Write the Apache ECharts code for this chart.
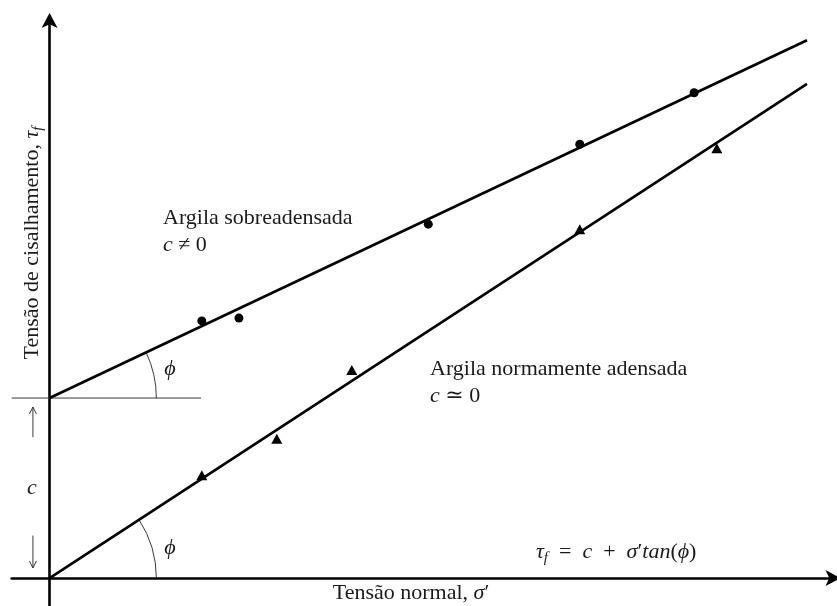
<!DOCTYPE html>
<html>
<head>
<meta charset="utf-8">
<script src="https://cdn.jsdelivr.net/npm/echarts@6/dist/echarts.min.js"></script>
<style>
  html, body { margin: 0; padding: 0; background: #fff; }
  #chart { width: 837px; height: 606px; }
</style>
</head>
<body>
<div id="chart"></div>
<script>
// Mohr–Coulomb failure envelopes for two clays (shear stress vs effective normal stress)
const cohesion = 3.22;                    // intercept c of the overconsolidated envelope
const envelopeX = [0, 10];
const overEnvelope = [cohesion, 9.62];     // Argila sobreadensada
const normalEnvelope = [0, 8.84];          // Argila normamente adensada
const overX = [2.01, 2.5, 5.0, 7.0, 8.51];
const overY = [4.60, 4.65, 6.33, 7.76, 8.68];
const normalX = [2.01, 3.0, 3.99, 7.0, 8.81];
const normalY = [1.84, 2.49, 3.72, 6.24, 7.69];
const xRange = [-0.5, 10.35];
const yRange = [-0.5, 10];
const arcRadius = 1.41;                    // angle arcs, in sigma' units
const refLineEnd = 2.0;                    // end of the horizontal guide through c
const cArrowX = -0.22;

const serif = "'Liberation Serif', 'DejaVu Serif', serif";
const ink = '#1a1a1a';
const thinInk = '#3a3a3a';

const pairs = (xs, ys) => xs.map((x, i) => [x, ys[i]]);

function renderGuides(params, api) {
  const thin = { stroke: thinInk, lineWidth: 1, fill: null };
  const origin = api.coord([0, 0]);
  const cPoint = api.coord([0, cohesion]);
  const r = api.size([arcRadius, 0])[0];
  const slopeAngle = (a, b) => {
    const p0 = api.coord(a), p1 = api.coord(b);
    return Math.atan2(p0[1] - p1[1], p1[0] - p0[0]);
  };
  const tOver = slopeAngle([envelopeX[0], overEnvelope[0]], [envelopeX[1], overEnvelope[1]]);
  const tNormal = slopeAngle([envelopeX[0], normalEnvelope[0]], [envelopeX[1], normalEnvelope[1]]);
  const h0 = api.coord([xRange[0], cohesion]);
  const h1 = api.coord([refLineEnd, cohesion]);

  // thin arrows marking the extent of c
  const arrow = (fromY, toY) => {
    const a = api.coord([cArrowX, fromY]);
    const b = api.coord([cArrowX, toY]);
    const dir = b[1] < a[1] ? 1 : -1;   // 1 = pointing up
    return [
      { type: 'line', shape: { x1: a[0], y1: a[1], x2: b[0], y2: b[1] }, style: thin },
      { type: 'polyline', shape: { points: [[b[0] - 3.5, b[1] + dir * 7], [b[0], b[1]], [b[0] + 3.5, b[1] + dir * 7]] }, style: thin }
    ];
  };

  return {
    type: 'group',
    children: [
      { type: 'line', shape: { x1: h0[0], y1: h0[1], x2: h1[0], y2: h1[1] }, style: thin },
      { type: 'arc', shape: { cx: cPoint[0], cy: cPoint[1], r: r, startAngle: -tOver, endAngle: 0, clockwise: true }, style: thin },
      { type: 'arc', shape: { cx: origin[0], cy: origin[1], r: r, startAngle: -tNormal, endAngle: 0, clockwise: true }, style: thin }
    ].concat(arrow(cohesion - 0.70, cohesion - 0.16), arrow(0.76, 0.18))
  };
}

const mathRich = {
  i: { fontFamily: serif, fontStyle: 'italic', fontSize: 22, fill: ink, lineHeight: 28 },
  s: { fontFamily: serif, fontStyle: 'italic', fontSize: 15, fill: ink, lineHeight: 12, verticalAlign: 'bottom' }
};

function label(x, y, text, extra) {
  return Object.assign({
    type: 'text',
    x: x, y: y,
    silent: true,
    style: Object.assign({
      text: text,
      fontFamily: serif,
      fontSize: 22,
      lineHeight: 28,
      fill: ink,
      align: 'left',
      verticalAlign: 'middle',
      rich: mathRich
    }, extra && extra.style)
  }, extra && extra.el);
}

const axisLine = {
  onZero: true,
  symbol: ['none', 'arrow'],
  symbolSize: [12, 15],
  lineStyle: { color: '#000', width: 2.6 }
};

const chart = echarts.init(document.getElementById('chart'), null, { renderer: 'canvas' });

chart.setOption({
  animation: false,
  backgroundColor: '#ffffff',
  grid: { left: 11.7, right: 3.5, top: 19, bottom: 0, containLabel: false },
  xAxis: {
    type: 'value', min: xRange[0], max: xRange[1],
    axisLine: Object.assign({}, axisLine, { symbolOffset: [0, 7] }),
    axisTick: { show: false }, axisLabel: { show: false }, splitLine: { show: false }
  },
  yAxis: {
    type: 'value', min: yRange[0], max: yRange[1],
    axisLine: Object.assign({}, axisLine, { symbolOffset: [0, 6] }),
    axisTick: { show: false }, axisLabel: { show: false }, splitLine: { show: false }
  },
  series: [
    {
      type: 'custom', renderItem: renderGuides, data: [[0, 0]], clip: false, silent: true, z: 1
    },
    {
      name: 'Argila sobreadensada', type: 'line',
      data: pairs(envelopeX, overEnvelope),
      showSymbol: false, lineStyle: { color: '#000', width: 2.6 }, z: 2
    },
    {
      name: 'Argila normamente adensada', type: 'line',
      data: pairs(envelopeX, normalEnvelope),
      showSymbol: false, lineStyle: { color: '#000', width: 2.6 }, z: 2
    },
    {
      type: 'scatter', data: pairs(overX, overY),
      symbol: 'circle', symbolSize: 9, itemStyle: { color: '#000', opacity: 1 }, z: 3
    },
    {
      type: 'scatter', data: pairs(normalX, normalY),
      symbol: 'triangle', symbolSize: [11, 10], itemStyle: { color: '#000', opacity: 1 }, z: 3
    }
  ],
  graphic: [
    label(163, 218, 'Argila sobreadensada'),
    label(163, 245, '{i|c} ≠ 0'),
    label(430, 369, 'Argila normamente adensada'),
    label(430, 396, '{i|c} ≃ 0'),
    label(536, 552, '{i|τ}{s|f}\u2002=\u2002{i|c}\u2002+\u2002{i|σ}′{i|tan}({i|ϕ})'),
    label(411, 593, 'Tensão normal, {i|σ}′', { style: { align: 'center' } }),
    label(32, 243, 'Tensão de cisalhamento, {i|τ}{s|f}', { style: { align: 'center' }, el: { rotation: Math.PI / 2 } }),
    label(170, 369, '{i|ϕ}', { style: { align: 'center' } }),
    label(170, 548, '{i|ϕ}', { style: { align: 'center' } }),
    label(32, 488, '{i|c}', { style: { align: 'center' } })
  ]
});
</script>
</body>
</html>
